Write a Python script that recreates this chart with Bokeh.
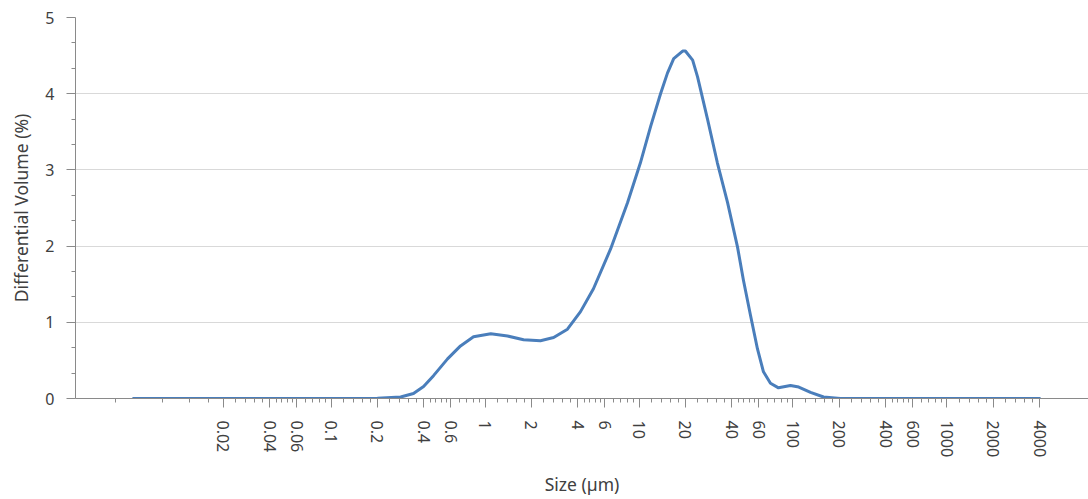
import math
from bokeh.plotting import figure
from bokeh.models import FixedTicker, Range1d
from bokeh.embed import file_html
from bokeh.resources import INLINE

# ---- data ----
size_um = [0.0052, 0.01, 0.05, 0.1, 0.2, 0.283, 0.343, 0.399, 0.463, 0.571,
           0.693, 0.842, 1.09, 1.40, 1.78, 2.29, 2.79, 3.43, 4.17, 5.06,
           6.53, 8.42, 10.2, 11.9, 13.8, 15.3, 16.8, 19.2, 20.0, 22.3,
           24.0, 27.9, 32.3, 37.6, 43.6, 47.7, 53.0, 58.8, 64.3, 71.4,
           80.5, 96.3, 109, 130, 158, 203, 500, 1000, 4000]
diff_volume = [0.0, 0.0, 0.0, 0.0, 0.003, 0.02, 0.065, 0.157, 0.30, 0.52,
               0.69, 0.81, 0.85, 0.82, 0.77, 0.757, 0.80, 0.91, 1.14, 1.44,
               1.96, 2.57, 3.09, 3.57, 4.00, 4.27, 4.46, 4.56, 4.56, 4.44,
               4.22, 3.66, 3.09, 2.57, 1.99, 1.55, 1.09, 0.65, 0.35, 0.20,
               0.14, 0.17, 0.15, 0.08, 0.02, 0.0, 0.0, 0.0, 0.0]

x_tick_values = [0.02, 0.04, 0.06, 0.1, 0.2, 0.4, 0.6, 1, 2, 4, 6, 10, 20, 40,
                 60, 100, 200, 400, 600, 1000, 2000, 4000]
x_tick_labels = ["0.02", "0.04", "0.06", "0.1", "0.2", "0.4", "0.6", "1", "2",
                 "4", "6", "10", "20", "40", "60", "100", "200", "400", "600",
                 "1000", "2000", "4000"]
y_tick_values = [0, 1, 2, 3, 4, 5]

x_title = "Size (µm)"
y_title = "Differential Volume (%)"

# minor ticks: each major interval split into five
x_minor = []
step0 = (x_tick_values[1] - x_tick_values[0]) / 5
for k in range(1, 5):
    x_minor.append(x_tick_values[0] - k * step0)
for a, b in zip(x_tick_values[:-1], x_tick_values[1:]):
    for k in range(1, 5):
        x_minor.append(a + k * (b - a) / 5)
y_minor = [i + k / 3 for i in range(5) for k in (1, 2)]

FONT = "Noto Sans"
TXT = "#404040"
AX = "#8a8a8a"

p = figure(width=1088, height=499, x_axis_type="log",
           x_range=Range1d(0.00219, 8300), y_range=Range1d(0, 5),
           output_backend="svg", toolbar_location=None,
           min_border_left=75, min_border_right=0, min_border_top=17,
           min_border_bottom=97)
p.outline_line_color = None
p.background_fill_color = "white"
p.border_fill_color = "white"

p.line(size_um, diff_volume, line_color="#4a7ebb", line_width=3,
       line_join="round", line_cap="round")

xa = p.xaxis[0]
xa.ticker = FixedTicker(ticks=x_tick_values, minor_ticks=x_minor)
xa.major_label_overrides = {v: l for v, l in zip(x_tick_values, x_tick_labels)}
xa.major_label_orientation = -math.pi / 2
xa.axis_label = x_title

ya = p.yaxis[0]
ya.ticker = FixedTicker(ticks=y_tick_values, minor_ticks=y_minor)
ya.axis_label = y_title

for ax in (xa, ya):
    ax.axis_line_color = AX
    ax.axis_line_width = 1
    ax.major_tick_line_color = AX
    ax.minor_tick_line_color = AX
    ax.major_tick_in = 0
    ax.major_tick_out = 9
    ax.minor_tick_in = 0
    ax.minor_tick_out = 4
    ax.major_label_text_font = FONT
    ax.major_label_text_font_size = "16px"
    ax.major_label_text_color = TXT
    ax.axis_label_text_font = FONT
    ax.axis_label_text_font_size = "17.5px"
    ax.axis_label_text_font_style = "normal"
    ax.axis_label_text_color = TXT

xa.major_label_standoff = 13
xa.axis_label_standoff = 12
ya.major_label_standoff = 12
ya.axis_label_standoff = 9

p.xgrid.grid_line_color = None
p.ygrid.grid_line_color = "#d9d9d9"
p.ygrid.grid_line_width = 1

open("out.html", "w").write(file_html(p, INLINE))
